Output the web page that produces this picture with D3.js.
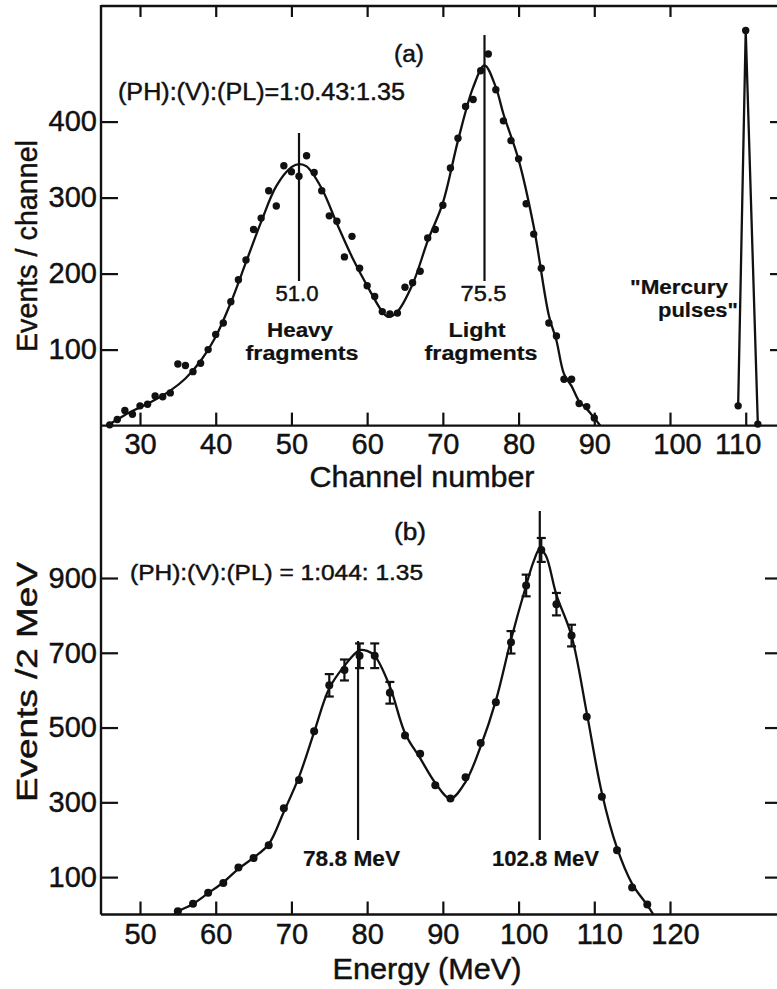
<!DOCTYPE html>
<html><head><meta charset="utf-8">
<script src="https://cdn.jsdelivr.net/npm/d3@7"></script>
<style>
html,body{margin:0;padding:0;background:#fff;}
svg{display:block;background:#fff;}
text{font-family:"Liberation Sans",Arial,sans-serif;fill:#111;stroke:#111;stroke-width:0.45px;}
</style></head><body>
<svg id="chart" width="777" height="989"></svg>
<script>
// ---------------- Panel (a): pulse-height spectrum ----------------
const channelsA = [26,27,28,29,30,31,32,33,34,35,36,37,38,39,40,41,42,43,44,45,46,47,48,49,50,51,52,53,54,55,56,57,58,59,60,61,62,63,64,65,66,67,68,69,70,71,72,73,74,75,76,77,78,79,80,81,82,83,84,85,86,87,88,89,90];
const countsA   = [1,8,20,15,26,28,39,38,43,81,79,71,82,100,120,135,163,192,218,258,273,309,289,342,334,328,355,333,309,276,269,222,249,207,184,170,150,147,148,182,188,203,247,258,290,339,378,420,429,467,489,442,401,375,351,292,252,207,135,118,61,61,29,25,10];
const fitChannelsA = [25.6,26,28,30,32,34,36,38,40,42,44,46,48,50,51,52,54,56,58,60,62,62.8,64,66,68,70,72,74,75.5,77,78,80,82,84,85,86,87,88,89,90,90.8];
const fitCountsA   = [0,2,14,24,34,46,62,85,117,162,215,268,315,340,344,341,312,266,222,184,150,143,150,186,243,293,375,445,474,445,410,350,262,145,112,68,52,32,22,10,0];
const mercuryChannels = [109,110,111.6];
const mercuryCounts   = [26,520,2];
const peakChannelsA = [51.0,75.5];
const peakLabelsA   = ["51.0","75.5"];
const yTicksA = [100,200,300,400];
const xTicksA = [30,40,50,60,70,80,90,100,110];
const xTopTicksA = [30,40,50,60,70,80,90,100];

// ---------------- Panel (b): energy spectrum ----------------
const energiesB = [55,57,59,61,63,65,67,69,71,73,75,77,79,81,83,85,87,89,91,93,95,97,99,101,103,105,107,109,111,113,115,117];
const countsB   = [9,29,58,84,126,151,185,284,360,490,613,654,692,692,593,479,430,346,310,367,459,568,728,880,975,830,746,529,315,172,72,27];
const errEnergiesB = [75,77,79,81,83,99,101,103,105,107];
const errCountsB   = [613,654,692,692,593,728,880,975,830,746];
const errorsB      = [30,28,33,33,29,30,29,32,30,29];
const fitEnergiesB = [54.5,55,57,59,61,63,65,67,69,71,73,75,77,79,80,81,83,85,87,89,91,93,95,97,99,101,102,102.8,103.6,105,107,109,111,113,115,117,117.8];
const fitCountsB   = [0,8,28,57,86,122,152,188,275,368,488,605,665,707,705,692,610,485,418,352,310,355,450,572,735,880,945,978,960,855,745,540,325,178,82,25,0];
const peakEnergiesB = [78.8,102.8];
const peakLabelsB   = ["78.8 MeV","102.8 MeV"];
const yTicksB = [100,300,500,700,900];
const xTicksB = [50,60,70,80,90,100,110,120];

// ---------------- drawing ----------------
const svg = d3.select("#chart");
svg.append("rect").attr("width",777).attr("height",989).attr("fill","#fff").attr("stroke","none");

const LEFT = 101, RIGHT = 787;
const xA = d3.scaleLinear().domain([30,100]).range([140,670]);
const yA = d3.scaleLinear().domain([0,400]).range([425.6,121.6]);
const xB = d3.scaleLinear().domain([50,120]).range([140,670]);
const yB = d3.scaleLinear().domain([0,900]).range([914.5,578]);
const topA = 6, botA = 425.6, botB = 914.5;

const ink = "#111";
function styleAxis(g, fs){
  g.select(".domain").remove();
  g.selectAll(".tick line").attr("stroke",ink).attr("stroke-width",2.2);
  g.selectAll(".tick text").attr("font-size",fs).attr("fill",ink)
    .attr("font-family",'"Liberation Sans",Arial,sans-serif');
}

// frame lines
const frame = svg.append("g").attr("stroke",ink).attr("stroke-width",2.4).attr("fill","none");
frame.append("line").attr("x1",LEFT).attr("x2",LEFT).attr("y1",topA-1).attr("y2",botB);
frame.append("line").attr("x1",LEFT).attr("x2",RIGHT).attr("y1",topA).attr("y2",topA);
frame.append("line").attr("x1",LEFT).attr("x2",RIGHT).attr("y1",botA).attr("y2",botA);
frame.append("line").attr("x1",LEFT).attr("x2",RIGHT).attr("y1",botB).attr("y2",botB);

// axes (a)
svg.append("g").attr("transform",`translate(${LEFT},0)`)
  .call(d3.axisLeft(yA).tickValues(yTicksA).tickSize(-17).tickPadding(4))
  .call(g=>styleAxis(g,29));
svg.append("g").attr("transform",`translate(${RIGHT},0)`)
  .call(d3.axisRight(yA).tickValues(yTicksA).tickSize(-17).tickFormat(""))
  .call(g=>styleAxis(g,29));
svg.append("g").attr("transform",`translate(0,${botA})`)
  .call(d3.axisBottom(xA).tickValues(xTicksA).tickSize(-13).tickPadding(8))
  .call(g=>styleAxis(g,29))
  .call(g=>g.selectAll(".tick text").attr("dx",d=>d===100?7:(d===110?-8:0)));
svg.append("g").attr("transform",`translate(0,${topA})`)
  .call(d3.axisTop(xA).tickValues(xTopTicksA).tickSize(-11).tickFormat(""))
  .call(g=>styleAxis(g,29));

// axes (b)
svg.append("g").attr("transform",`translate(${LEFT},0)`)
  .call(d3.axisLeft(yB).tickValues(yTicksB).tickSize(-17).tickPadding(4))
  .call(g=>styleAxis(g,29));
svg.append("g").attr("transform",`translate(${RIGHT},0)`)
  .call(d3.axisRight(yB).tickValues(yTicksB).tickSize(-22).tickFormat(""))
  .call(g=>styleAxis(g,29));
svg.append("g").attr("transform",`translate(0,${botB})`)
  .call(d3.axisBottom(xB).tickValues(xTicksB).tickSize(-13).tickPadding(9))
  .call(g=>styleAxis(g,29))
  .call(g=>g.selectAll(".tick text").attr("dx",d=>d>=100?5:0));

// ---- panel (a) marks ----
const lineA = d3.line().x(d=>xA(d[0])).y(d=>yA(d[1])).curve(d3.curveCatmullRom.alpha(0.5));
svg.append("path").datum(d3.zip(fitChannelsA,fitCountsA)).attr("d",lineA)
  .attr("fill","none").attr("stroke",ink).attr("stroke-width",2.3);
svg.append("g").selectAll("circle").data(d3.zip(channelsA,countsA)).join("circle")
  .attr("cx",d=>xA(d[0])).attr("cy",d=>yA(d[1])).attr("r",3.7).attr("fill",ink);
const lineMerc = d3.line().x(d=>xA(d[0])).y(d=>yA(d[1]));
svg.append("path").datum(d3.zip(mercuryChannels,mercuryCounts)).attr("d",lineMerc)
  .attr("fill","none").attr("stroke",ink).attr("stroke-width",2.3);
svg.append("g").selectAll("circle").data(d3.zip(mercuryChannels,mercuryCounts)).join("circle")
  .attr("cx",d=>xA(d[0])).attr("cy",d=>yA(d[1])).attr("r",3.7).attr("fill",ink);

// peak markers (a)
const peakTopsA = [133,35];
peakChannelsA.forEach((c,i)=>{
  svg.append("line").attr("x1",xA(c)).attr("x2",xA(c)).attr("y1",peakTopsA[i]).attr("y2",281)
    .attr("stroke",ink).attr("stroke-width",2.2);
});
function txt(x,y,s,fs,anchor,len,bold){
  const t = svg.append("text").attr("x",x).attr("y",y).attr("font-size",fs)
    .attr("text-anchor",anchor||"start").text(s);
  if(len) t.attr("textLength",len).attr("lengthAdjust","spacingAndGlyphs");
  if(bold) t.attr("font-weight","bold").style("stroke-width","0.2px");
  return t;
}
txt(xA(peakChannelsA[0])-2,301,peakLabelsA[0],22,"middle",43);
txt(300,336.5,"Heavy",20,"middle",66,true);
txt(302,359.5,"fragments",20,"middle",113,true);
txt(xA(peakChannelsA[1])-1,301,peakLabelsA[1],22,"middle",46);
txt(477,336.5,"Light",20,"middle",57,true);
txt(481,359.5,"fragments",20,"middle",113,true);
txt(630,294,"\"Mercury",20,"start",98,true);
txt(658,316.5,"pulses\"",20,"start",80,true);
txt(409,62,"(a)",23,"middle",30);
txt(118,100,"(PH):(V):(PL)=1:0.43:1.35",23,"start",287);
txt(422,487,"Channel number",29,"middle",225);
svg.append("text").attr("transform","translate(37,246) rotate(-90)")
  .attr("font-size",30).attr("text-anchor","middle")
  .attr("textLength",212).attr("lengthAdjust","spacingAndGlyphs").text("Events / channel");

// ---- panel (b) marks ----
const lineB = d3.line().x(d=>xB(d[0])).y(d=>yB(d[1])).curve(d3.curveCatmullRom.alpha(0.5));
svg.append("path").datum(d3.zip(fitEnergiesB,fitCountsB)).attr("d",lineB)
  .attr("fill","none").attr("stroke",ink).attr("stroke-width",2.3);
const eb = svg.append("g").attr("stroke",ink).attr("stroke-width",2.2);
d3.zip(errEnergiesB,errCountsB,errorsB).forEach(([e,v,s])=>{
  const x = xB(e);
  eb.append("line").attr("x1",x).attr("x2",x).attr("y1",yB(v-s)).attr("y2",yB(v+s));
  eb.append("line").attr("x1",x-4.5).attr("x2",x+4.5).attr("y1",yB(v-s)).attr("y2",yB(v-s));
  eb.append("line").attr("x1",x-4.5).attr("x2",x+4.5).attr("y1",yB(v+s)).attr("y2",yB(v+s));
});
svg.append("g").selectAll("circle").data(d3.zip(energiesB,countsB)).join("circle")
  .attr("cx",d=>xB(d[0])).attr("cy",d=>yB(d[1])).attr("r",4).attr("fill",ink);
const peakTopsB = [641,511];
peakEnergiesB.forEach((e,i)=>{
  svg.append("line").attr("x1",xB(e)).attr("x2",xB(e)).attr("y1",peakTopsB[i]).attr("y2",840)
    .attr("stroke",ink).attr("stroke-width",2.2);
});
txt(303,866,peakLabelsB[0],22,"start",97,true);
txt(492,866,peakLabelsB[1],22,"start",107,true);
txt(410,540,"(b)",23,"middle",32);
txt(130,580,"(PH):(V):(PL) = 1:044: 1.35",22,"start",293);
txt(427,979,"Energy (MeV)",29,"middle",189);
svg.append("text").attr("transform","translate(37,682) rotate(-90)")
  .attr("font-size",30).attr("text-anchor","middle")
  .attr("textLength",240).attr("lengthAdjust","spacingAndGlyphs").text("Events /2 MeV");
</script>
</body></html>
